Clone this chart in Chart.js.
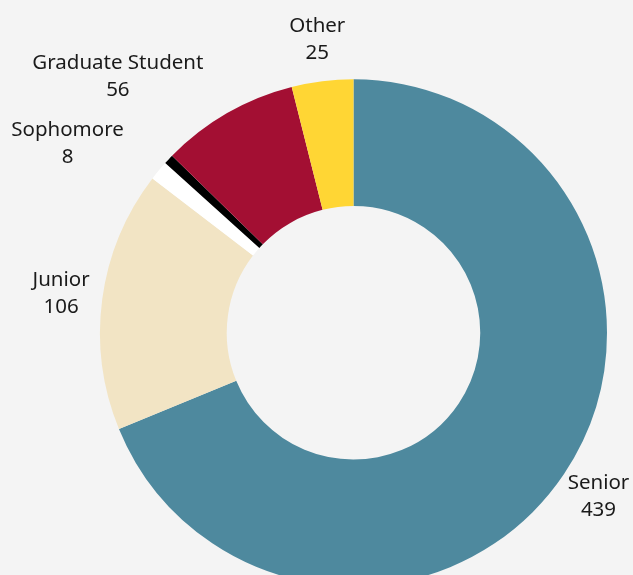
<!DOCTYPE html>
<html>
<head>
<meta charset="utf-8">
<script src="https://cdn.jsdelivr.net/npm/chart.js@4"></script>
<style>
  html, body { margin: 0; padding: 0; background: #f4f4f4; }
  #wrap { width: 633px; height: 575px; overflow: hidden; position: relative; }
  canvas { display: block; }
</style>
</head>
<body>
<div id="wrap"><canvas id="donut" width="633" height="600"></canvas></div>
<script>
// --- data ---
const categories = ["Senior", "Junior", "Sophomore", "Freshman", "Graduate Student", "Other"];
const counts = [439, 106, 8, 4, 56, 25];
const showLabel = [true, true, true, false, true, true];
const colors = ["#4e899e", "#f2e4c4", "#ffffff", "#000000", "#a30f33", "#ffd634"];

// label alignment per slice (left-hand labels pushed out)
const labelAlign = ["center", "center", "right", "center", "right", "center"];

const outsideLabels = {
  id: "outsideLabels",
  afterDatasetsDraw(chart) {
    const { ctx } = chart;
    const meta = chart.getDatasetMeta(0);
    ctx.save();
    ctx.font = "20.5px 'Noto Sans'";
    ctx.fillStyle = "#1a1a1a";
    ctx.textBaseline = "middle";
    ctx.textAlign = "center";
    meta.data.forEach((arc, i) => {
      if (!showLabel[i]) return;
      const p = arc.getProps(["x", "y", "startAngle", "endAngle", "outerRadius"], true);
      const mid = (p.startAngle + p.endAngle) / 2;
      const r = p.outerRadius + 41.5;
      let x = p.x + Math.cos(mid) * r;
      const y = p.y + Math.sin(mid) * r;
      if (labelAlign[i] === "right") {
        x -= 3 + ctx.measureText(categories[i]).width / 2;
      }
      ctx.fillText(categories[i], x, y - 13.5);
      ctx.fillText(String(counts[i]), x, y + 13.5);
    });
    ctx.restore();
  },
};

new Chart(document.getElementById("donut"), {
  type: "doughnut",
  data: {
    labels: categories,
    datasets: [{ data: counts, backgroundColor: colors, borderWidth: 0 }],
  },
  options: {
    responsive: false,
    animation: false,
    devicePixelRatio: 1,
    cutout: "50%",
    layout: { padding: { left: 100, right: 26, top: 79.3, bottom: 13.7 } },
    plugins: { legend: { display: false }, tooltip: { enabled: false } },
  },
  plugins: [outsideLabels],
});
</script>
</body>
</html>
